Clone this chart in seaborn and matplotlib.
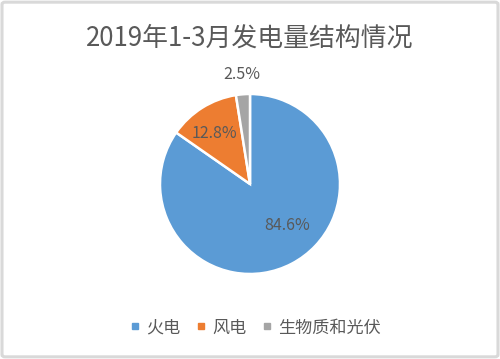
import numpy as np
import matplotlib
matplotlib.use('Agg')
import matplotlib.pyplot as plt
import seaborn as sns
from matplotlib.lines import Line2D
from matplotlib.patches import FancyBboxPatch

sns.set_theme(style='white')
plt.rcParams['font.family'] = ['Noto Sans CJK SC', 'DejaVu Sans']

# data
categories = ['火电', '风电', '生物质和光伏']
shares = [84.6, 12.8, 2.5]
colors = ['#5B9BD5', '#ED7D31', '#A5A5A5']
# label placement (radius, angle shift in degrees) to mimic Excel's best-fit labels
label_radius = [0.62, 0.685, 1.22]
label_shift = [13.7, 3.4, 0.0]
title = '2019年1-3月发电量结构情况'
text_color = '#595959'

fig = plt.figure(figsize=(5, 3.59), dpi=100)

# light gray chart border
fig.patches.append(FancyBboxPatch((0.004, 0.006), 0.992, 0.988, boxstyle='round,pad=0,rounding_size=0.006',
                                  transform=fig.transFigure, fill=False, edgecolor='#D9D9D9', linewidth=2.2))

ax = fig.add_axes([0.32, 0.2368, 0.36, 0.5014])
wedges, _ = ax.pie(shares, colors=colors, startangle=90, counterclock=False,
                   wedgeprops=dict(edgecolor='white', linewidth=1.8))
ax.set_aspect('equal')
ax.set_xlim(-1, 1)
ax.set_ylim(-1, 1)

for w, v, r, s in zip(wedges, shares, label_radius, label_shift):
    ang = np.deg2rad((w.theta1 + w.theta2) / 2 + s)
    ax.text(r * np.cos(ang), r * np.sin(ang), f'{v:.1f}%', ha='center', va='center',
            fontsize=11.5, color=text_color)

fig.text(0.5, 0.893, title, ha='center', va='center', fontsize=18.6, color=text_color)

handles = [Line2D([], [], marker='s', linestyle='', markersize=5, color=c) for c in colors]
fig.legend(handles, categories, loc='center', bbox_to_anchor=(0.508, 0.088), ncol=3, frameon=False,
           fontsize=12.3, handletextpad=0.15, columnspacing=0.7, handlelength=1.0,
           labelcolor=text_color)

plt.savefig('out.png', dpi=100)
